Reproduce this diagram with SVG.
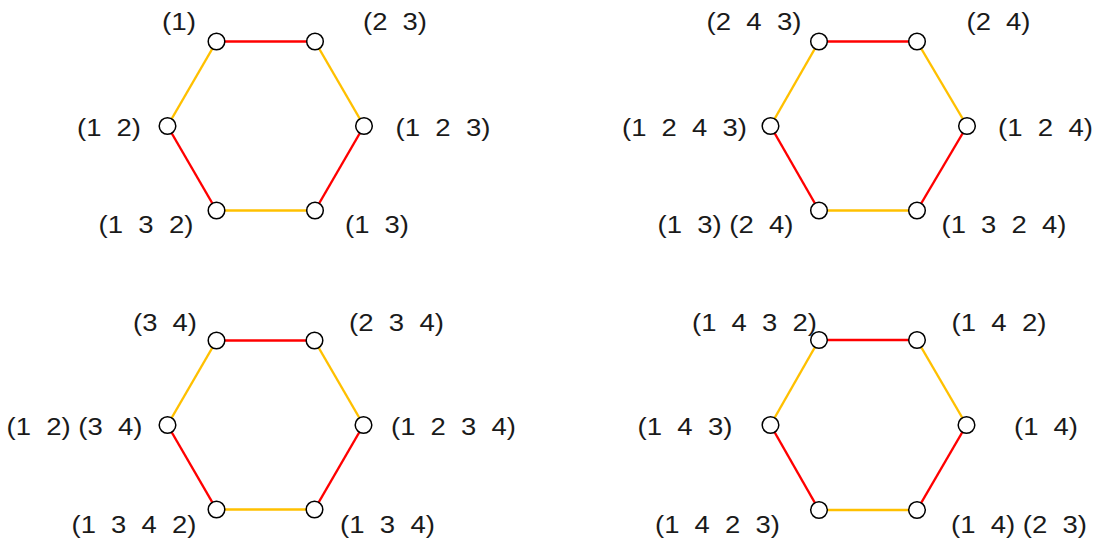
<svg xmlns="http://www.w3.org/2000/svg" width="1097" height="542" viewBox="0 0 1097 542">
<style>
.r{stroke:#FF0000;stroke-width:2.4;fill:none}
.o{stroke:#FFC000;stroke-width:2.4;fill:none}
.n{fill:#fff;stroke:#000;stroke-width:1.5}
text{font-family:"Liberation Sans",Arial,sans-serif;font-size:23.5px;fill:#1a1a1a;white-space:pre}
</style>
<rect width="1097" height="542" fill="#fff"/>
<g id="connectors">
<line class="r" x1="216.5" y1="41.5" x2="315" y2="41.5"/>
<line class="o" x1="315" y1="41.5" x2="364" y2="126"/>
<line class="r" x1="364" y1="126" x2="315" y2="210.5"/>
<line class="o" x1="315" y1="210.5" x2="216.5" y2="210.5"/>
<line class="r" x1="216.5" y1="210.5" x2="167.5" y2="126"/>
<line class="o" x1="167.5" y1="126" x2="216.5" y2="41.5"/>

<line class="r" x1="819" y1="41.5" x2="917" y2="41.5"/>
<line class="o" x1="917" y1="41.5" x2="967" y2="126"/>
<line class="r" x1="967" y1="126" x2="917" y2="210.5"/>
<line class="o" x1="917" y1="210.5" x2="819" y2="210.5"/>
<line class="r" x1="819" y1="210.5" x2="770.5" y2="126"/>
<line class="o" x1="770.5" y1="126" x2="819" y2="41.5"/>

<line class="r" x1="216.5" y1="340.5" x2="314.5" y2="340.5"/>
<line class="o" x1="314.5" y1="340.5" x2="363.5" y2="425"/>
<line class="r" x1="363.5" y1="425" x2="314.5" y2="509.5"/>
<line class="o" x1="314.5" y1="509.5" x2="216.5" y2="509.5"/>
<line class="r" x1="216.5" y1="509.5" x2="167.5" y2="425"/>
<line class="o" x1="167.5" y1="425" x2="216.5" y2="340.5"/>

<line class="r" x1="819" y1="340" x2="917" y2="340"/>
<line class="o" x1="917" y1="340" x2="966.5" y2="425"/>
<line class="r" x1="966.5" y1="425" x2="917" y2="510"/>
<line class="o" x1="917" y1="510" x2="819" y2="510"/>
<line class="r" x1="819" y1="510" x2="770.5" y2="425"/>
<line class="o" x1="770.5" y1="425" x2="819" y2="340"/>
</g>

<g id="n-e"><circle class="n" cx="216.5" cy="41.5" r="8.3"/><text x="162" y="30" textLength="34" lengthAdjust="spacingAndGlyphs">(1)</text></g>
<g id="n-23"><circle class="n" cx="315" cy="41.5" r="8.3"/><text x="363" y="30" textLength="64" lengthAdjust="spacingAndGlyphs">(2  3)</text></g>
<g id="n-12"><circle class="n" cx="167.5" cy="126" r="8.3"/><text x="77" y="136" textLength="64" lengthAdjust="spacingAndGlyphs">(1  2)</text></g>
<g id="n-123"><circle class="n" cx="364" cy="126" r="8.3"/><text x="395.5" y="136" textLength="95" lengthAdjust="spacingAndGlyphs">(1  2  3)</text></g>
<g id="n-132"><circle class="n" cx="216.5" cy="210.5" r="8.3"/><text x="98.5" y="232.5" textLength="95" lengthAdjust="spacingAndGlyphs">(1  3  2)</text></g>
<g id="n-13"><circle class="n" cx="315" cy="210.5" r="8.3"/><text x="345" y="232.5" textLength="64" lengthAdjust="spacingAndGlyphs">(1  3)</text></g>

<g id="n-243"><circle class="n" cx="819" cy="41.5" r="8.3"/><text x="706.5" y="30" textLength="95" lengthAdjust="spacingAndGlyphs">(2  4  3)</text></g>
<g id="n-24"><circle class="n" cx="917" cy="41.5" r="8.3"/><text x="966.5" y="30" textLength="64" lengthAdjust="spacingAndGlyphs">(2  4)</text></g>
<g id="n-1243"><circle class="n" cx="770.5" cy="126" r="8.3"/><text x="622" y="136" textLength="125" lengthAdjust="spacingAndGlyphs">(1  2  4  3)</text></g>
<g id="n-124"><circle class="n" cx="967" cy="126" r="8.3"/><text x="998" y="136" textLength="95" lengthAdjust="spacingAndGlyphs">(1  2  4)</text></g>
<g id="n-13-24"><circle class="n" cx="819" cy="210.5" r="8.3"/><text x="657.5" y="232.5" textLength="136" lengthAdjust="spacingAndGlyphs">(1  3) (2  4)</text></g>
<g id="n-1324"><circle class="n" cx="917" cy="210.5" r="8.3"/><text x="941.5" y="232.5" textLength="125" lengthAdjust="spacingAndGlyphs">(1  3  2  4)</text></g>

<g id="n-34"><circle class="n" cx="216.5" cy="340.5" r="8.3"/><text x="133" y="331" textLength="64" lengthAdjust="spacingAndGlyphs">(3  4)</text></g>
<g id="n-234"><circle class="n" cx="314.5" cy="340.5" r="8.3"/><text x="349" y="331" textLength="95" lengthAdjust="spacingAndGlyphs">(2  3  4)</text></g>
<g id="n-12-34"><circle class="n" cx="167.5" cy="425" r="8.3"/><text x="6.5" y="435" textLength="136" lengthAdjust="spacingAndGlyphs">(1  2) (3  4)</text></g>
<g id="n-1234"><circle class="n" cx="363.5" cy="425" r="8.3"/><text x="391" y="435" textLength="125" lengthAdjust="spacingAndGlyphs">(1  2  3  4)</text></g>
<g id="n-1342"><circle class="n" cx="216.5" cy="509.5" r="8.3"/><text x="71.5" y="533" textLength="125" lengthAdjust="spacingAndGlyphs">(1  3  4  2)</text></g>
<g id="n-134"><circle class="n" cx="314.5" cy="509.5" r="8.3"/><text x="340" y="533" textLength="95" lengthAdjust="spacingAndGlyphs">(1  3  4)</text></g>

<g id="n-1432"><circle class="n" cx="819" cy="340" r="8.3"/><text x="692" y="331" textLength="125" lengthAdjust="spacingAndGlyphs">(1  4  3  2)</text></g>
<g id="n-142"><circle class="n" cx="917" cy="340" r="8.3"/><text x="951.5" y="331" textLength="95" lengthAdjust="spacingAndGlyphs">(1  4  2)</text></g>
<g id="n-143"><circle class="n" cx="770.5" cy="425" r="8.3"/><text x="637.5" y="435" textLength="95" lengthAdjust="spacingAndGlyphs">(1  4  3)</text></g>
<g id="n-14"><circle class="n" cx="966.5" cy="425" r="8.3"/><text x="1014" y="435" textLength="64" lengthAdjust="spacingAndGlyphs">(1  4)</text></g>
<g id="n-1423"><circle class="n" cx="819" cy="510" r="8.3"/><text x="655" y="533" textLength="125" lengthAdjust="spacingAndGlyphs">(1  4  2  3)</text></g>
<g id="n-14-23"><circle class="n" cx="917" cy="510" r="8.3"/><text x="951" y="533" textLength="136" lengthAdjust="spacingAndGlyphs">(1  4) (2  3)</text></g>
</svg>
